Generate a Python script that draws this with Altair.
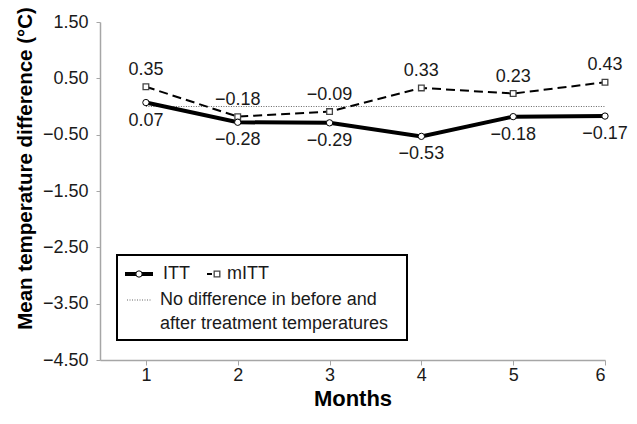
import altair as alt
import pandas as pd

months = [1, 2, 3, 4, 5, 6]
itt = [0.07, -0.28, -0.29, -0.53, -0.18, -0.17]
mitt = [0.35, -0.18, -0.09, 0.33, 0.23, 0.43]
y_ticks = [1.5, 0.5, -0.5, -1.5, -2.5, -3.5, -4.5]

FONT = "Liberation Sans"
AX = "#a6a6a6"

df = pd.DataFrame({
    "month": months * 2,
    "value": itt + mitt,
    "series": ["ITT"] * 6 + ["mITT"] * 6,
})
df_itt = df[df.series == "ITT"]
df_mitt = df[df.series == "mITT"]
df_zero = pd.DataFrame({"x": [months[0]], "x2": [months[-1]], "y": [0.0]})

xs = alt.Scale(domain=[0.5, 6], nice=False, zero=False)
ys = alt.Scale(domain=[-4.5, 1.5], nice=False, zero=False)

x_axis = alt.Axis(values=months, format="d", grid=False, domainColor=AX, domainWidth=1.5,
                  tickColor=AX, tickSize=5, labelPadding=1, labelFontSize=18,
                  labelColor="#1a1a1a", labelFont=FONT,
                  title="Months", titleFontSize=22, titleFontWeight="bold", titleFont=FONT,
                  titleColor="#000", titleBaseline="alphabetic", titleY=45)
y_axis = alt.Axis(values=y_ticks, format=".2f", grid=False, domainColor=AX, domainWidth=1.5,
                  tickColor=AX, tickSize=4, labelPadding=8, labelFontSize=18,
                  labelColor="#1a1a1a", labelFont=FONT,
                  title="Mean temperature difference (°C)", titleFontSize=20.5,
                  titleFontWeight="bold", titleFont=FONT, titleColor="#000",
                  titleAngle=270, titleBaseline="middle", titleX=-75, titleY=146)

zero = alt.Chart(df_zero).mark_rule(color="#666", strokeWidth=1, strokeDash=[1, 1.5]).encode(
    x=alt.X("x:Q", scale=xs, axis=x_axis),
    x2="x2:Q",
    y=alt.Y("y:Q", scale=ys, axis=y_axis),
)

X = alt.X("month:Q", scale=xs)
Y = alt.Y("value:Q", scale=ys)

itt_line = alt.Chart(df_itt).mark_line(color="#000", strokeWidth=4).encode(x=X, y=Y)
mitt_line = alt.Chart(df_mitt).mark_line(color="#000", strokeWidth=2, strokeDash=[9, 5]).encode(x=X, y=Y)
itt_pts = alt.Chart(df_itt).mark_point(shape="circle", filled=True, fill="white", stroke="#000",
                                       strokeWidth=1, size=40, opacity=1).encode(x=X, y=Y)
mitt_pts = alt.Chart(df_mitt).mark_point(shape="square", filled=True, fill="white", stroke="#444",
                                         strokeWidth=1.3, size=32, opacity=1).encode(x=X, y=Y)
itt_txt = alt.Chart(df_itt).mark_text(dy=18, fontSize=18, font=FONT, color="#1a1a1a").encode(
    x=X, y=Y, text=alt.Text("value:Q", format=".2f"))
mitt_txt = alt.Chart(df_mitt).mark_text(dy=-17, fontSize=18, font=FONT, color="#1a1a1a").encode(
    x=X, y=Y, text=alt.Text("value:Q", format=".2f"))

# legend (positions in plot pixels)
one = pd.DataFrame({"k": [0]})
lg = alt.Chart(one)
R1, R2, R3 = 252, 278, 302
box = lg.mark_rect(fill="white", stroke="#000", strokeWidth=2).encode(
    x=alt.value(17), x2=alt.value(307), y=alt.value(233), y2=alt.value(318))
l_itt = lg.mark_rule(color="#000", strokeWidth=4).encode(
    x=alt.value(25), x2=alt.value(53), y=alt.value(R1))
l_itt_pt = lg.mark_point(shape="circle", filled=True, fill="white", stroke="#000", strokeWidth=1,
                         size=40, opacity=1).encode(x=alt.value(39), y=alt.value(R1))
l_itt_t = lg.mark_text(align="left", baseline="middle", fontSize=18, font=FONT, color="#1a1a1a").encode(
    x=alt.value(63), y=alt.value(R1), text=alt.value("ITT"))
l_mitt = lg.mark_rule(color="#000", strokeWidth=2, strokeDash=[5, 3]).encode(
    x=alt.value(107), x2=alt.value(123), y=alt.value(R1))
l_mitt_pt = lg.mark_point(shape="square", filled=True, fill="white", stroke="#444", strokeWidth=1.3,
                          size=32, opacity=1).encode(x=alt.value(117), y=alt.value(R1))
l_mitt_t = lg.mark_text(align="left", baseline="middle", fontSize=18, font=FONT, color="#1a1a1a").encode(
    x=alt.value(127), y=alt.value(R1), text=alt.value("mITT"))
l_zero = lg.mark_rule(color="#666", strokeWidth=1, strokeDash=[1, 1.5]).encode(
    x=alt.value(27), x2=alt.value(52), y=alt.value(R2))
l_zero_t1 = lg.mark_text(align="left", baseline="middle", fontSize=18, font=FONT, color="#1a1a1a").encode(
    x=alt.value(60), y=alt.value(R2), text=alt.value("No difference in before and"))
l_zero_t2 = lg.mark_text(align="left", baseline="middle", fontSize=18, font=FONT, color="#1a1a1a").encode(
    x=alt.value(60), y=alt.value(R3), text=alt.value("after treatment temperatures"))

chart = alt.layer(
    zero, mitt_line, itt_line, mitt_pts, itt_pts, mitt_txt, itt_txt,
    box, l_itt, l_itt_pt, l_itt_t, l_mitt, l_mitt_pt, l_mitt_t, l_zero, l_zero_t1, l_zero_t2,
).properties(
    width=505, height=338,
    padding={"left": 92, "top": 14, "right": 24, "bottom": 50},
    autosize=alt.AutoSizeParams(type="none"),
    background="white",
).configure_view(stroke=None)

chart.save("out.html", embed_options={"renderer": "svg", "actions": False})
